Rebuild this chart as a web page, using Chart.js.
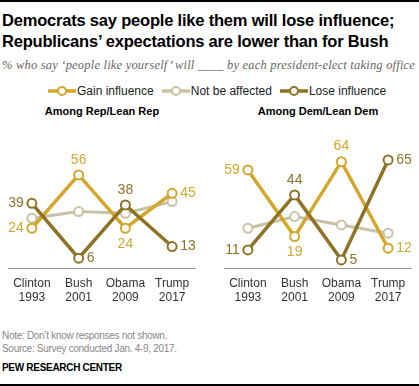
<!DOCTYPE html>
<html>
<head>
<meta charset="utf-8">
<script src="https://cdn.jsdelivr.net/npm/chart.js@4"></script>
<style>
  html, body { margin: 0; padding: 0; background: #fff; }
  body { width: 419px; height: 386px; position: relative; overflow: hidden; font-family: "Liberation Sans", Arial, sans-serif; }
  .rule { position: absolute; left: 0; width: 419px; height: 2px; background: #000; }
  #title { position: absolute; left: 2px; top: 10px; font: bold 16.5px/21px "Liberation Sans", Arial, sans-serif; color: #000; letter-spacing: -0.2px; white-space: nowrap; }
  #sub { position: absolute; left: 2px; top: 58px; font: italic 12.5px "Liberation Serif", Georgia, serif; color: #666; white-space: nowrap; letter-spacing: 0.2px; }
  #legend { position: absolute; left: 48px; top: 84px; font: 12px "Liberation Sans", Arial, sans-serif; color: #222; white-space: nowrap; display: flex; align-items: center; }
  #legend span.item { display: inline-flex; align-items: center; margin-right: 8px; }
  #legend svg { margin-right: 1px; }
  .ptitle { position: absolute; top: 105px; width: 200px; text-align: center; font: bold 11px "Liberation Sans", Arial, sans-serif; color: #000; }
  .panel { position: absolute; top: 125px; width: 200px; height: 188px; }
  #foot { position: absolute; left: 2px; top: 329px; font: 10px "Liberation Sans", Arial, sans-serif; color: #888; line-height: 13px; letter-spacing: -0.3px; }
  #pew { position: absolute; left: 2px; top: 362px; font: bold 10px "Liberation Sans", Arial, sans-serif; color: #000; letter-spacing: -0.3px; }
</style>
</head>
<body>
<div class="rule" style="top:0"></div>
<div id="title">Democrats say people like them will lose influence;<br>Republicans’ expectations are lower than for Bush</div>
<div id="sub">% who say ‘people like yourself’ will ____ by each president-elect taking office</div>
<div id="legend"></div>
<div class="ptitle" style="left:2px">Among Rep/Lean Rep</div>
<div class="ptitle" style="left:218px">Among Dem/Lean Dem</div>
<div class="panel" style="left:2px"><canvas id="rep"></canvas></div>
<div class="panel" style="left:218px"><canvas id="dem"></canvas></div>
<div id="foot">Note: Don’t know responses not shown.<br>Source: Survey conducted Jan. 4-9, 2017.</div>
<div id="pew">PEW RESEARCH CENTER</div>
<div class="rule" style="top:384px"></div>

<script>
// --- данные ---
const categories = [["Clinton", "1993"], ["Bush", "2001"], ["Obama", "2009"], ["Trump", "2017"]];
const seriesNames = ["Gain influence", "Not be affected", "Lose influence"];

const repGain = [24, 56, 24, 45];
const repNot = [30, 34, 33, 40];
const repLose = [39, 6, 38, 13];

const demGain = [59, 19, 64, 12];
const demNot = [24, 31, 26, 21];
const demLose = [11, 44, 5, 65];

// --- стиль ---
const colors = ["#d4a72c", "#c8c3a6", "#8f7325"];
const widths = [3.5, 3, 3.5];

// где ставить подписи (null = без подписи)
const repLabelPos = [["left", "top", "below", "right"], null, ["left", "right", "top", "right"]];
const demLabelPos = [["left", "below", "top", "right"], null, ["left", "top", "right", "right"]];

// --- легенда ---
const legend = document.getElementById("legend");
legend.innerHTML = seriesNames.map((n, i) => `
  <span class="item"><svg width="28" height="12">
    <line x1="0" y1="6" x2="28" y2="6" stroke="${colors[i]}" stroke-width="3.5"/>
    <circle cx="14" cy="6" r="4" fill="#fff" stroke="${colors[i]}" stroke-width="2"/>
  </svg>${n}</span>`).join("");

// --- подписи значений ---
const valueLabels = {
  id: "valueLabels",
  afterDatasetsDraw(chart, args, opts) {
    const ctx = chart.ctx;
    ctx.save();
    ctx.font = "14px 'Liberation Sans', Arial, sans-serif";
    chart.data.datasets.forEach((ds, di) => {
      const pos = opts.pos[di];
      if (!pos) return;
      chart.getDatasetMeta(di).data.forEach((pt, i) => {
        const p = pos[i];
        ctx.fillStyle = ds.borderColor;
        let x = pt.x, y = pt.y;
        if (p === "left") { ctx.textAlign = "right"; ctx.textBaseline = "middle"; x -= 8; }
        if (p === "right") { ctx.textAlign = "left"; ctx.textBaseline = "middle"; x += 8; }
        if (p === "top") { ctx.textAlign = "center"; ctx.textBaseline = "bottom"; y -= 8; }
        if (p === "below") { ctx.textAlign = "center"; ctx.textBaseline = "top"; y += 9; }
        ctx.fillText(ds.data[i], x, y);
      });
    });
    ctx.restore();
  }
};

function makeChart(id, series, pos) {
  new Chart(document.getElementById(id), {
    type: "line",
    data: {
      labels: categories,
      datasets: series.map((d, i) => ({
        label: seriesNames[i],
        data: d,
        borderColor: colors[i],
        borderWidth: widths[i],
        pointRadius: 4.5,
        pointBorderWidth: 2,
        pointBackgroundColor: "#fff",
        pointBorderColor: colors[i],
        tension: 0,
        order: i === 1 ? 3 : (i === 0 ? 2 : 1),
      })),
    },
    options: {
      responsive: true,
      maintainAspectRatio: false,
      animation: false,
      layout: { padding: { top: 10, left: 0, right: 0, bottom: 0 } },
      plugins: { legend: { display: false }, tooltip: { enabled: false }, valueLabels: { pos } },
      scales: {
        x: {
          offset: true,
          grid: { display: false, drawTicks: false },
          border: { display: true, color: "#999", width: 1 },
          ticks: { color: "#333", font: { size: 12, family: "'Liberation Sans', Arial, sans-serif" }, padding: 8, maxRotation: 0 },
        },
        y: {
          display: false,
          min: 0,
          max: 80,
        },
      },
    },
    plugins: [valueLabels],
  });
}

makeChart("rep", [repGain, repNot, repLose], repLabelPos);
makeChart("dem", [demGain, demNot, demLose], demLabelPos);
</script>
</body>
</html>
